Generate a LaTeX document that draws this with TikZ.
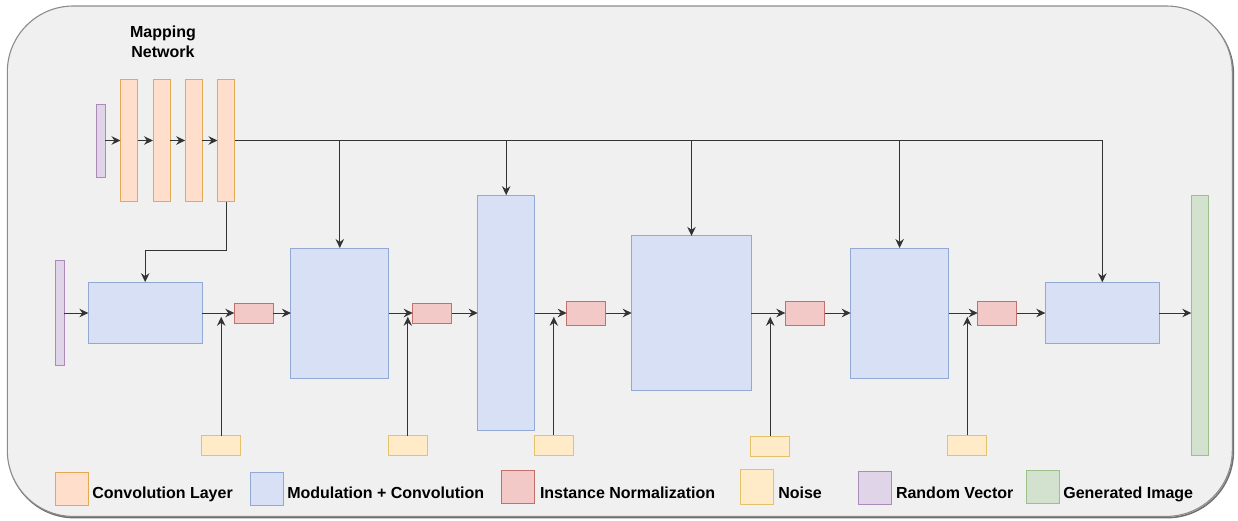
\documentclass[tikz,border=0pt]{standalone}
\usepackage{fontspec}
\setmainfont{Liberation Sans}
\usetikzlibrary{arrows.meta}

\definecolor{panelF}{HTML}{F0F0F0}
\definecolor{panelD}{HTML}{8C8C8C}
\definecolor{convF}{HTML}{FFDFCB}
\definecolor{convD}{HTML}{E3A955}
\definecolor{modF}{HTML}{D7E0F4}
\definecolor{modD}{HTML}{92A9D3}
\definecolor{normF}{HTML}{F3C9C7}
\definecolor{normD}{HTML}{C2706A}
\definecolor{noiseF}{HTML}{FFEBC8}
\definecolor{noiseD}{HTML}{E4C26A}
\definecolor{randF}{HTML}{E0D5E8}
\definecolor{randD}{HTML}{A98AB9}
\definecolor{genF}{HTML}{D3E2CE}
\definecolor{genD}{HTML}{9DBF89}
\definecolor{lineC}{HTML}{333333}

\tikzset{
  blk/.style={draw, line width=1pt, inner sep=0pt, outer sep=0pt},
  conv/.style={blk, draw=convD, fill=convF},
  modc/.style={blk, draw=modD, fill=modF},
  inorm/.style={blk, draw=normD, fill=normF},
  noisebox/.style={blk, draw=noiseD, fill=noiseF, minimum width=39, minimum height=20},
  randvec/.style={blk, draw=randD, fill=randF},
  genimg/.style={blk, draw=genD, fill=genF},
  wire/.style={draw=lineC, line width=1pt},
  arr/.style={wire, -{Stealth[length=9pt,width=8.5pt,inset=3pt]}},
  lab/.style={inner sep=0pt, outer sep=0pt, font=\fontsize{16}{19.5}\selectfont\bfseries},
  keybox/.style={blk, minimum width=33, minimum height=33}
}

\begin{document}
\begin{tikzpicture}[x=1pt,y=-1pt]
\useasboundingbox (0,0) rectangle (1238,520);

% framing panel with a soft drop edge
\draw[panelD!80!black, line width=1.6pt, rounded corners=66] (8.3,7.8) rectangle (1233.3,517.6);
\draw[panelD, fill=panelF, line width=1.1pt, rounded corners=66] (7.3,6) rectangle (1232.3,516.4);

% mapping network
\node[lab, align=center] (title) at (163,42) {Mapping\\Network};
\node[randvec, minimum width=9, minimum height=73] (z) at (100.5,140.5) {};
\node[conv, minimum width=17, minimum height=122] (m1) at (129,140.5) {};
\node[conv, minimum width=17, minimum height=122] (m2) at (161.5,140.5) {};
\node[conv, minimum width=17, minimum height=122] (m3) at (193.7,140.5) {};
\node[conv, minimum width=17, minimum height=122] (m4) at (226,140.5) {};
\draw[arr] (z) -- (m1);
\draw[arr] (m1) -- (m2);
\draw[arr] (m2) -- (m3);
\draw[arr] (m3) -- (m4);

% synthesis chain
\node[randvec, minimum width=8.6, minimum height=105.7] (c) at (60,313) {};
\node[modc, minimum width=113.7, minimum height=61.7] (b1) at (145.2,313) {};
\node[inorm, minimum width=39, minimum height=20] (r1) at (253.8,313) {};
\node[modc, minimum width=97.7, minimum height=130] (b2) at (339.8,313) {};
\node[inorm, minimum width=39, minimum height=20] (r2) at (432.2,313) {};
\node[modc, minimum width=57, minimum height=235.7] (b3) at (506.2,313) {};
\node[inorm, minimum width=39, minimum height=24] (r3) at (586.2,313) {};
\node[modc, minimum width=119.6, minimum height=154.3] (b4) at (691.5,313) {};
\node[inorm, minimum width=39.4, minimum height=24] (r4) at (805,313) {};
\node[modc, minimum width=97.8, minimum height=130] (b5) at (899.6,313) {};
\node[inorm, minimum width=39, minimum height=24] (r5) at (997.2,313) {};
\node[modc, minimum width=114, minimum height=61.4] (b6) at (1102.3,313) {};
\node[genimg, minimum width=17, minimum height=260.3] (out) at (1199.8,325.2) {};

\draw[arr] (c) -- (b1);
\draw[arr] (b1) -- (r1);
\draw[arr] (r1) -- (b2);
\draw[arr] (b2) -- (r2);
\draw[arr] (r2) -- (b3);
\draw[arr] (b3) -- (r3);
\draw[arr] (r3) -- (b4);
\draw[arr] (b4) -- (r4);
\draw[arr] (r4) -- (b5);
\draw[arr] (b5) -- (r5);
\draw[arr] (r5) -- (b6);
\draw[arr] (b6.east) -- (b6.east -| out.west);

% style vector distribution
\coordinate (bend) at (226,250);
\draw[arr] (m4.south) -- (bend) -| (b1.north);
\draw[arr] (m4.east) -| (b6.north);
\draw[arr] (b2.north |- m4.east) -- (b2.north);
\draw[arr] (b3.north |- m4.east) -- (b3.north);
\draw[arr] (b4.north |- m4.east) -- (b4.north);
\draw[arr] (b5.north |- m4.east) -- (b5.north);

% noise inputs
\node[noisebox] (n1) at (221.2,445.5) {};
\node[noisebox] (n2) at (407.8,445.8) {};
\node[noisebox] (n3) at (553.8,445.2) {};
\node[noisebox] (n4) at (770.2,446.2) {};
\node[noisebox] (n5) at (967.3,445.3) {};
\foreach \n in {n1,n2,n3,n4,n5}{
  \draw[arr] (\n.north) -- ([yshift=-3.8pt]\n.north |- b1.east);
}

% legend
\node[keybox, draw=convD, fill=convF] (k1) at (72.2,488.6) {};
\node[lab, anchor=base west] (t1) at (92.3,498.3) {Convolution Layer};
\node[keybox, draw=modD, fill=modF] (k2) at (267,488.5) {};
\node[lab, anchor=base west] (t2) at (287.3,498.3) {Modulation + Convolution};
\node[keybox, draw=normD, fill=normF] (k3) at (518.3,486.7) {};
\node[lab, anchor=base west] (t3) at (540,498.3) {Instance Normalization};
\node[keybox, draw=noiseD, fill=noiseF, minimum height=35] (k4) at (757.3,487) {};
\node[lab, anchor=base west] (t4) at (778.3,498.3) {Noise};
\node[keybox, draw=randD, fill=randF] (k5) at (875.2,488.3) {};
\node[lab, anchor=base west] (t5) at (896,498.3) {Random Vector};
\node[keybox, draw=genD, fill=genF] (k6) at (1043.3,487) {};
\node[lab, anchor=base west] (t6) at (1063.3,498.3) {Generated Image};
\end{tikzpicture}
\end{document}
